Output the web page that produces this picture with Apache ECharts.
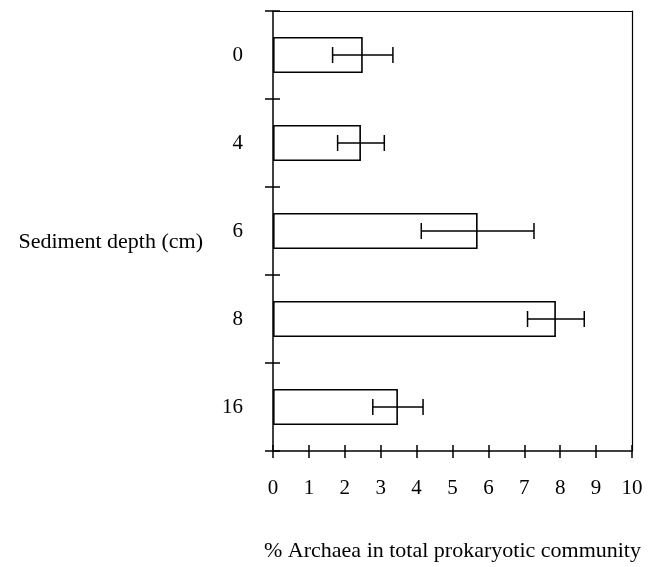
<!DOCTYPE html>
<html>
<head>
<meta charset="utf-8">
<script src="https://cdn.jsdelivr.net/npm/echarts@6/dist/echarts.min.js"></script>
<style>
  html, body { margin: 0; padding: 0; background: #fff; }
  #chart { width: 648px; height: 567px; }
</style>
</head>
<body>
<div id="chart"></div>
<script>
const depths = ['0', '4', '6', '8', '16']
const archaeaPct = [2.5, 2.45, 5.7, 7.88, 3.48]
const errorPct = [0.84, 0.65, 1.57, 0.79, 0.7]
const xTicks = [0, 1, 2, 3, 4, 5, 6, 7, 8, 9, 10]

const chart = echarts.init(document.getElementById('chart'))
const font = 'Liberation Serif'

const errData = depths.map((d, i) => [i, archaeaPct[i] - errorPct[i], archaeaPct[i] + errorPct[i]])

const option = {
  animation: false,
  backgroundColor: '#fff',
  textStyle: { fontFamily: font, color: '#000' },
  grid: { left: 273, right: 16, top: 11, bottom: 114, show: false },
  xAxis: [
    {
      type: 'value',
      min: xTicks[0],
      max: xTicks[xTicks.length - 1],
      interval: 1,
      name: '% Archaea in total prokaryotic community',
      nameLocation: 'middle',
      nameGap: 89,
      nameTextStyle: { fontFamily: font, fontSize: 22, color: '#000' },
      axisLine: { show: true, onZero: false, lineStyle: { color: '#000', width: 1.5 } },
      axisTick: { show: true, length: 7, lineStyle: { color: '#000', width: 1.5 } },
      axisLabel: { fontFamily: font, fontSize: 21, color: '#000', margin: 27 },
      splitLine: { show: false }
    },
    {
      type: 'value',
      position: 'bottom',
      min: 0,
      max: 10,
      interval: 1,
      axisLine: { show: false },
      axisTick: { show: true, inside: true, length: 6, lineStyle: { color: '#000', width: 1.5 } },
      axisLabel: { show: false },
      splitLine: { show: false }
    },
    {
      type: 'value',
      position: 'top',
      min: 0,
      max: 10,
      axisLine: { show: true, onZero: false, lineStyle: { color: '#000', width: 1.2 } },
      axisTick: { show: false },
      axisLabel: { show: false },
      splitLine: { show: false }
    }
  ],
  yAxis: [
    {
      type: 'category',
      data: depths,
      inverse: true,
      name: 'Sediment depth (cm)',
      nameLocation: 'middle',
      nameRotate: 0,
      nameGap: 70,
      nameTextStyle: { fontFamily: font, fontSize: 22, color: '#000', align: 'right', verticalAlign: 'top', padding: [0, 0, 0, 0] },
      axisLine: { show: true, onZero: false, lineStyle: { color: '#000', width: 1.5 } },
      axisTick: { show: true, length: 8, lineStyle: { color: '#000', width: 1.5 } },
      axisLabel: { fontFamily: font, fontSize: 21, color: '#000', margin: 30 },
      splitLine: { show: false }
    },
    {
      type: 'category',
      data: depths,
      inverse: true,
      position: 'left',
      axisLine: { show: false, onZero: false },
      axisTick: { show: true, inside: true, length: 7, lineStyle: { color: '#000', width: 1.5 } },
      axisLabel: { show: false },
      splitLine: { show: false }
    },
    {
      type: 'category',
      data: depths,
      inverse: true,
      position: 'right',
      axisLine: { show: true, onZero: false, lineStyle: { color: '#000', width: 1.2 } },
      axisTick: { show: false },
      axisLabel: { show: false },
      splitLine: { show: false }
    }
  ],
  series: [
    {
      type: 'bar',
      data: archaeaPct,
      barWidth: '41%',
      itemStyle: { color: '#fff', borderColor: '#000', borderWidth: 1.6 }
    },
    {
      type: 'custom',
      data: errData,
      z: 10,
      renderItem: function (params, api) {
        const cat = api.value(0)
        const lo = api.coord([api.value(1), cat])
        const hi = api.coord([api.value(2), cat])
        const h = 8
        const style = { stroke: '#000', lineWidth: 1.5 }
        return {
          type: 'group',
          children: [
            { type: 'line', shape: { x1: lo[0], y1: lo[1], x2: hi[0], y2: hi[1] }, style: style },
            { type: 'line', shape: { x1: lo[0], y1: lo[1] - h, x2: lo[0], y2: lo[1] + h }, style: style },
            { type: 'line', shape: { x1: hi[0], y1: hi[1] - h, x2: hi[0], y2: hi[1] + h }, style: style }
          ]
        }
      }
    }
  ]
}

chart.setOption(option)
</script>
</body>
</html>
